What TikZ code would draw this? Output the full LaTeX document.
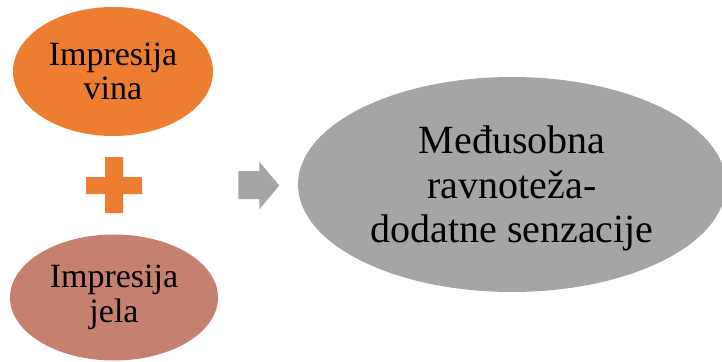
\documentclass[tikz,border=0pt]{standalone}
\usepackage{fontspec}
\setmainfont{Liberation Serif}
\usetikzlibrary{shapes.geometric}
\definecolor{vino}{HTML}{ED7D31}
\definecolor{jelo}{HTML}{C5806F}
\definecolor{siva}{HTML}{A5A5A5}
\begin{document}
\begin{tikzpicture}[x=1pt, y=-1pt,
  impr/.style={shape=ellipse, inner sep=0pt, align=center, font=\fontsize{34}{34.5}\selectfont}]
  \useasboundingbox (0, 0) rectangle (722, 361);
  \node[impr, fill=vino, minimum width=200pt, minimum height=129pt] (vino) at (113, 71.5) {Impresija\\vina};
  \node[impr, fill=jelo, minimum width=208pt, minimum height=126pt] (jelo) at (114, 297.5) {Impresija\\jela};
  \node[shape=ellipse, fill=siva, inner sep=0pt, align=center, text depth=0pt, minimum width=428pt, minimum height=215pt, font=\fontsize{40}{44.5}\selectfont] (ravnoteza) at (512, 184.5) {Međusobna\\ravnoteža-\\dodatne senzacije};
  % plus
  \fill[vino] (105, 157) -- (123, 157) -- (123, 177) -- (142, 177) -- (142, 194) -- (123, 194) -- (123, 213) -- (105, 213) -- (105, 194) -- (86, 194) -- (86, 177) -- (105, 177) -- cycle;
  % arrow
  \fill[siva] (238.3, 171) -- (259.3, 171) -- (259.3, 161.7) -- (279.3, 185.5) -- (259.3, 209.3) -- (259.3, 199) -- (238.3, 199) -- cycle;
\end{tikzpicture}
\end{document}
